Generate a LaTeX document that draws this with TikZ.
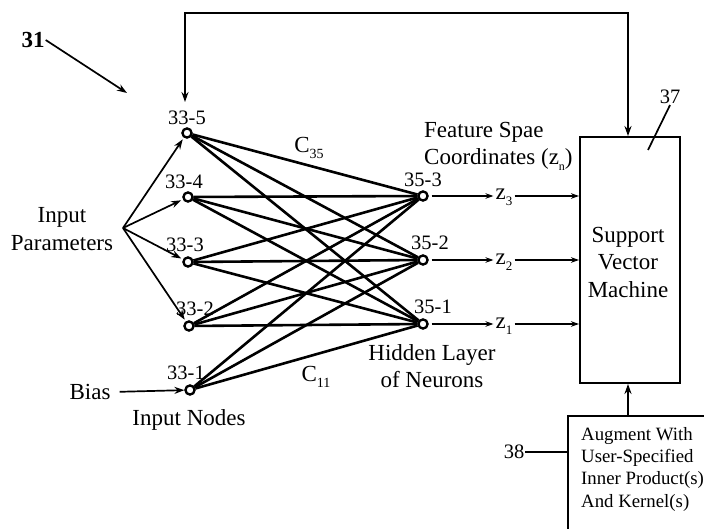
\documentclass[tikz,border=0pt]{standalone}
\usepackage{fontspec}
\setmainfont{Liberation Serif}
\usetikzlibrary{arrows.meta}
\begin{document}
\begin{tikzpicture}[x=1pt,y=-1pt,
  neuron/.style={circle,draw,line width=2.2pt,fill=white,inner sep=0pt,minimum size=9pt},
  conn/.style={line width=2.6pt},
  arr/.style={-{Stealth[length=10pt,width=7pt]},line width=1.7pt},
  sarr/.style={-{Stealth[length=8pt,width=5.5pt]},line width=1.7pt},
  lbl/.style={font=\fontsize{20.5}{22}\selectfont,inner sep=1pt},
  txt/.style={font=\fontsize{23}{27.5}\selectfont,align=center,inner sep=1pt},
  boxtxt/.style={font=\fontsize{18.8}{22.3}\selectfont,align=left,inner sep=0pt},
  frame/.style={draw,line width=1.9pt}]
\clip (0,0) rectangle (704,529);
% neurons
\node[neuron] (i5) at (187,133) {};
\node[neuron] (i4) at (188,197) {};
\node[neuron] (i3) at (188,262) {};
\node[neuron] (i2) at (189,326) {};
\node[neuron] (i1) at (190,390) {};
\node[neuron] (h3) at (423,196) {};
\node[neuron] (h2) at (423,260) {};
\node[neuron] (h1) at (423,324) {};
% connections
\foreach \i in {i1,i2,i3,i4,i5}{
  \foreach \h in {h1,h2,h3}{
    \draw[conn] (\i) -- (\h);
  }
}
% redraw neurons on top
\foreach \n/\x/\y in {i5/187/133,i4/188/197,i3/188/262,i2/189/326,i1/190/390,h3/423/196,h2/423/260,h1/423/324}
  \node[neuron] at (\x,\y) {};
% node labels
\node[lbl] (l5) at (187,118) {33-5};
\node[lbl] (l4) at (184,182) {33-4};
\node[lbl] (l3) at (185,245) {33-3};
\node[lbl] (l2) at (195,309) {33-2};
\node[lbl] (l1) at (186,373) {33-1};
\node[lbl] (lh3) at (423,180) {35-3};
\node[lbl] (lh2) at (430,243) {35-2};
\node[lbl] (lh1) at (433,307) {35-1};
% weights
\node[txt] (c35) at (309,148) {C\raisebox{-0.5ex}{\fontsize{14}{14}\selectfont 35}};
\node[txt] (c11) at (316,377) {C\raisebox{-0.5ex}{\fontsize{14}{14}\selectfont 11}};
% text
\node[txt] (ip) at (62,229) {Input\\Parameters};
\coordinate (ipo) at (123,228);
\foreach \n in {i5,i4,i3,i2}
  \draw[arr,shorten >=2pt] (ipo) -- (\n);
\node[txt] (bias) at (90,392) {Bias};
\draw[arr,shorten <=8pt] (bias.east) -- (i1);
\node[txt] (inodes) at (189,420) {Input Nodes};
\node[txt] (hidden) at (432,366) {Hidden Layer\\of Neurons};
\node[txt,align=left,anchor=west] (feat) at (423,146) {Feature Spae\\Coordinates (z\raisebox{-0.5ex}{\fontsize{12}{12}\selectfont n})};
% 31
\node[font=\fontsize{23}{23}\selectfont\bfseries,inner sep=1pt] (n31) at (33,40) {31};
\coordinate (p31) at (127,93);
\draw[arr] (n31.east) -- (p31);
% SVM
\node[frame,minimum width=100pt,minimum height=246pt,inner sep=0pt] (svm) at (630,260) {};
\node[txt] (svmt) at (628,262) {Support\\Vector\\Machine};
\node[lbl] (n37) at (670,97) {37};
\coordinate (p37) at (648,150);
\draw[line width=1.7pt] (n37.south) -- (p37);
% outputs
\node[txt,inner sep=2pt] (z3) at (504,197) {z\raisebox{-0.6ex}{\fontsize{13}{13}\selectfont 3}};
\node[txt,inner sep=2pt] (z2) at (504,262) {z\raisebox{-0.6ex}{\fontsize{13}{13}\selectfont 2}};
\node[txt,inner sep=2pt] (z1) at (504,326) {z\raisebox{-0.6ex}{\fontsize{13}{13}\selectfont 1}};
\draw[sarr,shorten <=3pt] (h3) -- (z3.west |- h3);
\draw[sarr,shorten <=3pt] (h2) -- (z2.west |- h2);
\draw[sarr,shorten <=3pt] (h1) -- (z1.west |- h1);
\draw[sarr] (z3.east |- h3) -- (svm.west |- h3);
\draw[sarr] (z2.east |- h2) -- (svm.west |- h2);
\draw[sarr] (z1.east |- h1) -- (svm.west |- h1);
% feedback
\coordinate (fbR) at (628,13);
\coordinate (fbL) at (185,13);
\coordinate (fbE) at (185,102);
\draw[{Stealth[length=10pt,width=7pt]}-{Stealth[length=10pt,width=7pt]},line width=1.9pt] (svm.north -| fbR) -- (fbR) -- (fbL) -- (fbE);
% augment box
\node[frame,anchor=north west,minimum width=180pt,minimum height=140pt] (aug) at (567,415) {};
\node[boxtxt,anchor=north west] (augt) at (581,427) {Augment With\\User-Specified\\Inner Product(s)\\And Kernel(s)};
\draw[arr] (aug.north -| fbR) -- (svm.south -| fbR);
\node[lbl] (n38) at (514,452) {38};
\draw[line width=1.7pt] (n38.east) -- (aug.west |- n38);
\end{tikzpicture}
\end{document}
